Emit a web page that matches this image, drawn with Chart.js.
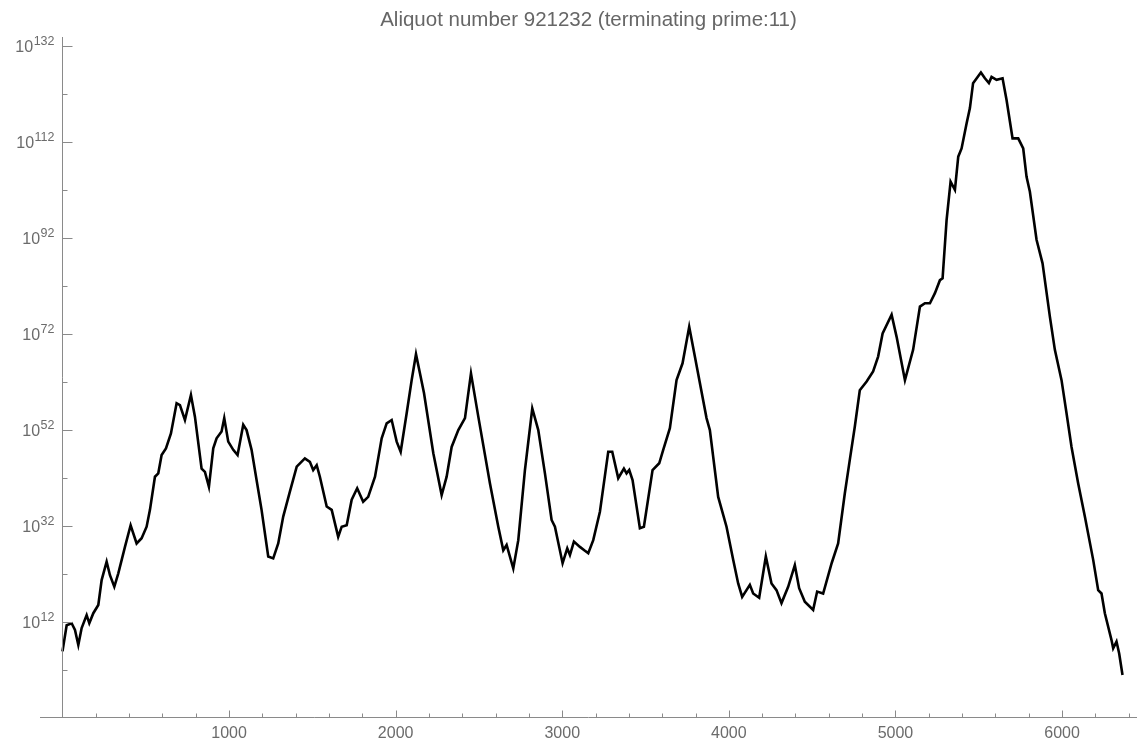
<!DOCTYPE html>
<html>
<head>
<meta charset="utf-8">
<script src="https://cdn.jsdelivr.net/npm/chart.js@4.4.1/dist/chart.umd.min.js"></script>
<style>
  html, body { margin: 0; padding: 0; background: #fff; }
  #wrap { width: 1137px; height: 743px; }
</style>
</head>
<body>
<div id="wrap"><canvas id="aliquot" width="1137" height="743"></canvas></div>
<script>
// iteration index along the sequence
const steps = [
  0, 25, 55, 75, 95, 115, 145, 161, 185, 215, 235, 265, 285, 311, 335, 375, 409, 445, 475, 505,
  525, 555, 575, 595, 621, 651, 685, 705, 735, 771, 795, 835, 855, 879, 905, 925, 955, 971, 995, 1025,
  1051, 1085, 1105, 1135, 1165, 1195, 1235, 1265, 1295, 1325, 1365, 1406, 1455, 1485, 1505, 1526, 1545, 1586, 1616, 1655,
  1676, 1706, 1736, 1769, 1805, 1835, 1876, 1916, 1946, 1976, 2006, 2030, 2066, 2096, 2122, 2146, 2170, 2226, 2276, 2306,
  2336, 2376, 2416, 2452, 2496, 2566, 2616, 2646, 2666, 2706, 2736, 2776, 2820, 2856, 2896, 2936, 2956, 3002, 3030, 3046,
  3070, 3106, 3132, 3156, 3186, 3226, 3276, 3300, 3336, 3370, 3386, 3402, 3422, 3466, 3490, 3542, 3582, 3606, 3646, 3686,
  3722, 3762, 3796, 3866, 3886, 3936, 3986, 4026, 4056, 4080, 4126, 4146, 4182, 4222, 4256, 4286, 4316, 4356, 4396, 4422,
  4456, 4506, 4530, 4566, 4617, 4656, 4696, 4726, 4756, 4786, 4827, 4866, 4896, 4923, 4977, 5007, 5057, 5106, 5147, 5177,
  5207, 5237, 5267, 5283, 5307, 5331, 5357, 5377, 5397, 5427, 5447, 5466, 5513, 5537, 5561, 5577, 5607, 5643, 5667, 5703,
  5737, 5767, 5787, 5807, 5847, 5883, 5927, 5957, 5997, 6027, 6057, 6097, 6137, 6187, 6217, 6237, 6257, 6297, 6307, 6327,
  6343, 6363
];
// log10 of the aliquot term
const logValues = [
  5.96, 11.4, 11.8, 10.4, 7.3, 10.8, 13.5, 11.8, 13.9, 15.6, 20.8, 24.6, 21.8, 19.4, 22.2, 27.7, 32.2, 28.4, 29.5, 31.9,
  35.4, 42.3, 43.0, 46.8, 48.2, 51.3, 57.6, 57.2, 54.1, 59.3, 54.8, 44.0, 43.3, 40.2, 48.2, 50.3, 51.7, 54.5, 49.6, 47.9,
  46.8, 53.1, 52.0, 47.9, 41.6, 35.4, 25.7, 25.3, 28.4, 34.0, 39.2, 44.4, 46.1, 45.4, 43.7, 44.7, 42.3, 36.1, 35.4, 29.8,
  31.9, 32.2, 37.5, 39.9, 37.1, 38.1, 42.3, 50.3, 53.4, 54.1, 49.6, 47.5, 55.5, 62.4, 67.8, 63.8, 59.7, 47.2, 38.5, 42.3,
  48.5, 52.0, 54.5, 63.8, 54.8, 40.9, 31.9, 27.0, 28.1, 23.2, 29.1, 43.7, 56.5, 52.0, 43.0, 33.3, 31.9, 24.3, 27.4, 26.0,
  28.8, 27.7, 27.0, 26.4, 29.1, 35.0, 47.5, 47.5, 42.0, 44.0, 43.0, 43.7, 41.6, 31.6, 31.9, 43.7, 45.1, 47.9, 52.4, 62.4,
  65.9, 73.5, 67.3, 54.5, 52.0, 38.1, 31.9, 25.0, 20.1, 17.3, 19.8, 18.0, 17.1, 25.7, 20.1, 18.7, 16.0, 19.4, 23.9, 19.1,
  16.3, 14.6, 18.4, 18.0, 24.3, 28.4, 38.8, 45.8, 52.7, 60.3, 62.1, 64.2, 67.3, 72.1, 76.0, 71.4, 62.4, 68.7, 77.7, 78.4,
  78.4, 80.5, 83.2, 83.6, 95.7, 103.7, 102.0, 108.9, 110.6, 115.8, 119.0, 124.2, 126.4, 125.2, 124.2, 125.5, 124.9, 125.2, 120.7, 112.7,
  112.7, 110.6, 104.7, 101.6, 91.6, 86.7, 75.6, 68.7, 62.4, 55.5, 48.5, 40.9, 34.0, 25.0, 18.7, 18.0, 13.9, 8.3, 6.6, 8.0,
  5.5, 1.04
];
const xTicks = [1000, 2000, 3000, 4000, 5000, 6000];
const yTicks = [12, 32, 52, 72, 92, 112, 132];

const FONT = "'Liberation Sans', Arial, sans-serif";
const AXIS = '#8a8a8a';
const LABEL = '#6b6b6b';

const points = steps.map((s, i) => ({ x: s, y: logValues[i] }));

// Mathematica style axes: y axis crossing at x = 0, ticks pointing inward
const axesPlugin = {
  id: 'axes',
  afterDatasetsDraw(chart) {
    const { ctx, chartArea, scales } = chart;
    const xs = scales.x, ys = scales.y;
    const x0 = Math.round(xs.getPixelForValue(0)) + 0.5;
    const yb = Math.round(chartArea.bottom) + 0.5;
    ctx.save();
    ctx.strokeStyle = AXIS;
    ctx.lineWidth = 1;
    ctx.beginPath();
    ctx.moveTo(chartArea.left, yb);
    ctx.lineTo(chartArea.right, yb);
    ctx.moveTo(x0, chartArea.top);
    ctx.lineTo(x0, yb);
    // x ticks
    for (let v = 200; v <= xs.max; v += 200) {
      const px = Math.round(xs.getPixelForValue(v)) + 0.5;
      const len = v % 1000 === 0 ? 7 : 4;
      ctx.moveTo(px, yb);
      ctx.lineTo(px, yb - len);
    }
    // y ticks
    for (let v = 2; v <= 132; v += 10) {
      const py = Math.round(ys.getPixelForValue(v)) + 0.5;
      const len = (v - 12) % 20 === 0 ? 10 : 5;
      ctx.moveTo(x0, py);
      ctx.lineTo(x0 + len, py);
    }
    ctx.stroke();

    // y labels as 10^n
    ctx.fillStyle = LABEL;
    ctx.textBaseline = 'alphabetic';
    ctx.textAlign = 'right';
    yTicks.forEach(v => {
      const py = ys.getPixelForValue(v);
      const exp = String(v);
      ctx.font = '12.5px ' + FONT;
      const ew = ctx.measureText(exp).width;
      const right = x0 - 8;
      ctx.fillText(exp, right, py - 1);
      ctx.font = '16px ' + FONT;
      ctx.fillText('10', right - ew - 0.5, py + 6);
    });
    ctx.restore();
  }
};

new Chart(document.getElementById('aliquot'), {
  type: 'scatter',
  data: {
    datasets: [{
      data: points,
      showLine: true,
      borderColor: '#000',
      borderWidth: 2.6,
      pointRadius: 0,
      tension: 0
    }]
  },
  options: {
    responsive: false,
    animation: false,
    layout: { padding: { left: 40, right: 0, top: 0, bottom: 0 } },
    plugins: {
      legend: { display: false },
      tooltip: { enabled: false },
      title: {
        display: true,
        text: 'Aliquot number 921232 (terminating prime:11)',
        color: '#666',
        font: { family: FONT, size: 20.5, weight: 'normal' },
        padding: { top: 8, bottom: 4.4 }
      }
    },
    scales: {
      x: {
        type: 'linear',
        min: -135,
        max: 6450,
        afterBuildTicks: s => { s.ticks = xTicks.map(v => ({ value: v })); },
        afterFit: s => { s.height = 26; },
        grid: { display: false, drawTicks: false },
        border: { display: false },
        ticks: {
          color: LABEL,
          padding: 7,
          maxRotation: 0,
          font: { family: FONT, size: 16 },
          callback: v => String(v)
        }
      },
      y: {
        type: 'linear',
        min: -7.7,
        max: 133.8,
        display: false
      }
    }
  },
  plugins: [axesPlugin]
});
</script>
</body>
</html>
